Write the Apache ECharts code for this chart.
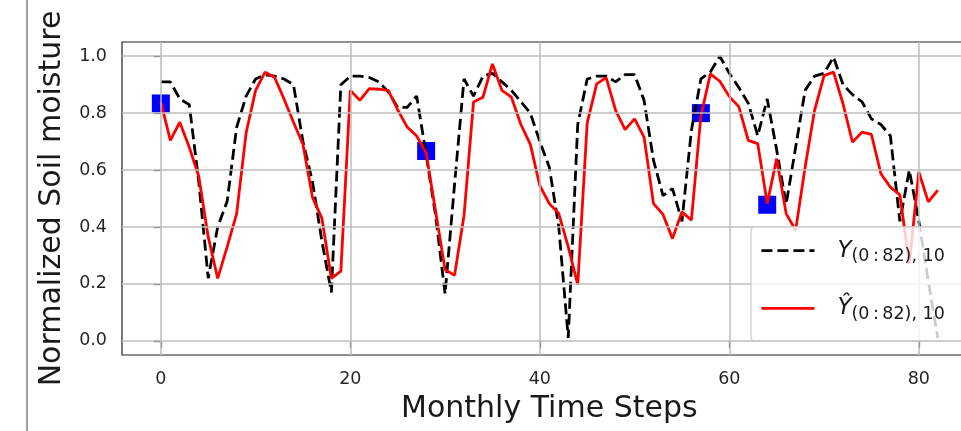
<!DOCTYPE html>
<html><head><meta charset="utf-8">
<script src="https://cdn.jsdelivr.net/npm/echarts@6/dist/echarts.min.js"></script>
<style>html,body{margin:0;padding:0;background:#fff;overflow:hidden}#c{width:985px;height:431px}</style>
</head><body><div id="c"></div>
<script>
// Monthly time steps (x positions)
const timeSteps = [0,1,2,3,4,5,6,7,8,9,10,11,12,13,14,15,16,17,18,19,20,21,22,23,24,25,26,27,28,29,30,31,32,33,34,35,36,37,38,39,40,41,42,43,44,45,46,47,48,49,50,51,52,53,54,55,56,57,58,59,60,61,62,63,64,65,66,67,68,69,70,71,72,73,74,75,76,77,78,79,80,81,82];
// Observed Y (black dashed)
const observed = [0.91,0.91,0.85,0.83,0.56,0.22,0.40,0.49,0.75,0.86,
0.92,0.935,0.93,0.92,0.90,0.70,0.56,0.35,0.17,0.90,
0.93,0.93,0.925,0.91,0.875,0.82,0.82,0.86,0.655,0.44,
0.165,0.55,0.92,0.86,0.93,0.94,0.91,0.88,0.84,0.80,
0.70,0.61,0.40,0.01,0.76,0.92,0.93,0.93,0.91,0.935,
0.935,0.845,0.634,0.51,0.535,0.42,0.74,0.92,0.945,1.0,
0.94,0.89,0.835,0.72,0.85,0.67,0.48,0.68,0.88,0.93,
0.94,0.997,0.90,0.865,0.84,0.78,0.76,0.72,0.42,0.60,
0.42,0.21,0.01];
// Predicted Y-hat (red)
const predicted = [0.839,0.704,0.768,0.68,0.578,0.365,0.219,0.33,0.447,0.73,
0.88,0.944,0.926,0.85,0.768,0.69,0.505,0.43,0.219,0.245,
0.88,0.845,0.886,0.884,0.88,0.812,0.751,0.72,0.66,0.455,
0.25,0.23,0.44,0.839,0.856,0.973,0.88,0.856,0.76,0.69,
0.545,0.482,0.447,0.33,0.197,0.765,0.903,0.925,0.81,0.742,
0.78,0.716,0.482,0.444,0.359,0.453,0.424,0.79,0.938,0.912,
0.858,0.823,0.704,0.693,0.482,0.64,0.447,0.388,0.61,0.81,
0.932,0.944,0.833,0.698,0.733,0.725,0.587,0.54,0.513,0.27,
0.593,0.488,0.529];
// Blue square markers
const markerSteps = [0,28,57,64];
const markerValues = [0.834,0.667,0.80,0.478];
// Tick values
const xTicks = [0,20,40,60,80];
const yTicks = [0.0,0.2,0.4,0.6,0.8,1.0];

const FONT = 'DejaVu Sans';
const pair = (xs, ys) => xs.map((x,i)=>[x, ys[i]]);

const chart = echarts.init(document.getElementById('c'), null, {renderer:'canvas', width:985, height:431});
const option = {
  animation:false,
  backgroundColor:'#ffffff',
  textStyle:{fontFamily:FONT},
  graphic:[{type:'line', shape:{x1:27,y1:0,x2:27,y2:431}, style:{stroke:'#808080', lineWidth:1.5}, z:0}],
  grid:{left:122, top:42, width:854.6, height:313, show:true, borderColor:'#222', borderWidth:1.2, backgroundColor:'transparent'},
  xAxis:{type:'value', min:-4.1, max:86.1,
    name:'Monthly Time Steps', nameLocation:'middle', nameGap:39,
    nameTextStyle:{fontSize:30, color:'#1a1a1a', fontFamily:FONT},
    axisLine:{show:false},
    axisTick:{show:true, customValues:xTicks, length:7, inside:false, lineStyle:{color:'#222', width:1.2}},
    axisLabel:{customValues:xTicks, fontSize:17.5, color:'#262626', margin:15, fontFamily:FONT},
    splitLine:{show:false}},
  yAxis:{type:'value', min:-0.05, max:1.05,
    name:'Normalized Soil moisture', nameLocation:'middle', nameGap:55, nameRotate:90,
    nameTextStyle:{fontSize:30, color:'#1a1a1a', fontFamily:FONT},
    axisLine:{show:false},
    axisTick:{show:true, customValues:yTicks, length:7, inside:false, lineStyle:{color:'#222', width:1.2}},
    axisLabel:{customValues:yTicks, fontSize:17.5, color:'#262626', margin:15, fontFamily:FONT, formatter:v=>Number(v).toFixed(1)},
    splitLine:{show:false}},
  legend:{
    left:751, top:227, orient:'vertical', selectedMode:false,
    data:['Y','Ŷ'],
    itemWidth:53, itemHeight:14, itemGap:27.6,
    padding:[8.7,40,17.4,9],
    backgroundColor:'rgba(255,255,255,0.8)', borderColor:'#cccccc', borderWidth:1.2, borderRadius:4,
    lineStyle:{width:2.8},
    itemStyle:{opacity:0},
    formatter: name => name==='Y' ? '{sp| }{y|Y}{sub|(0\u2009:\u200982), 10}' : '{sp| }{y|Ŷ}{sub|(0\u2009:\u200982), 10}',
    textStyle:{rich:{
      sp:{width:18},
      y:{fontSize:23, fontStyle:'italic', fontFamily:FONT, color:'#1a1a1a', lineHeight:30},
      sub:{fontSize:17.5, fontFamily:FONT, color:'#1a1a1a', lineHeight:17.5, padding:[12,0,0,0]}
    }},
    z:10
  },
  series:[
    {type:'line', name:'grid', data:[], z:0, silent:true,
      markLine:{silent:true, symbol:['none','none'], label:{show:false}, animation:false,
        lineStyle:{color:'#bdbdbd', width:1.5, type:'solid'},
        data: xTicks.map(v=>({xAxis:v})).concat(yTicks.map(v=>({yAxis:v})))}},
    {type:'scatter', name:'markers', data:pair(markerSteps, markerValues), symbol:'rect', symbolSize:18,
      itemStyle:{color:'#0000ff', opacity:1}, z:1, silent:true},
    {type:'line', name:'Y', data:pair(timeSteps, observed), symbol:'none', showSymbol:false, z:2,
      lineStyle:{color:'#000000', width:2.8, type:[11,5]}, itemStyle:{color:'#000000'}},
    {type:'line', name:'Ŷ', data:pair(timeSteps, predicted), symbol:'none', showSymbol:false, z:3,
      lineStyle:{color:'#ff0000', width:2.8, type:'solid'}, itemStyle:{color:'#ff0000'}}
  ]
};
chart.setOption(option);
</script></body></html>
